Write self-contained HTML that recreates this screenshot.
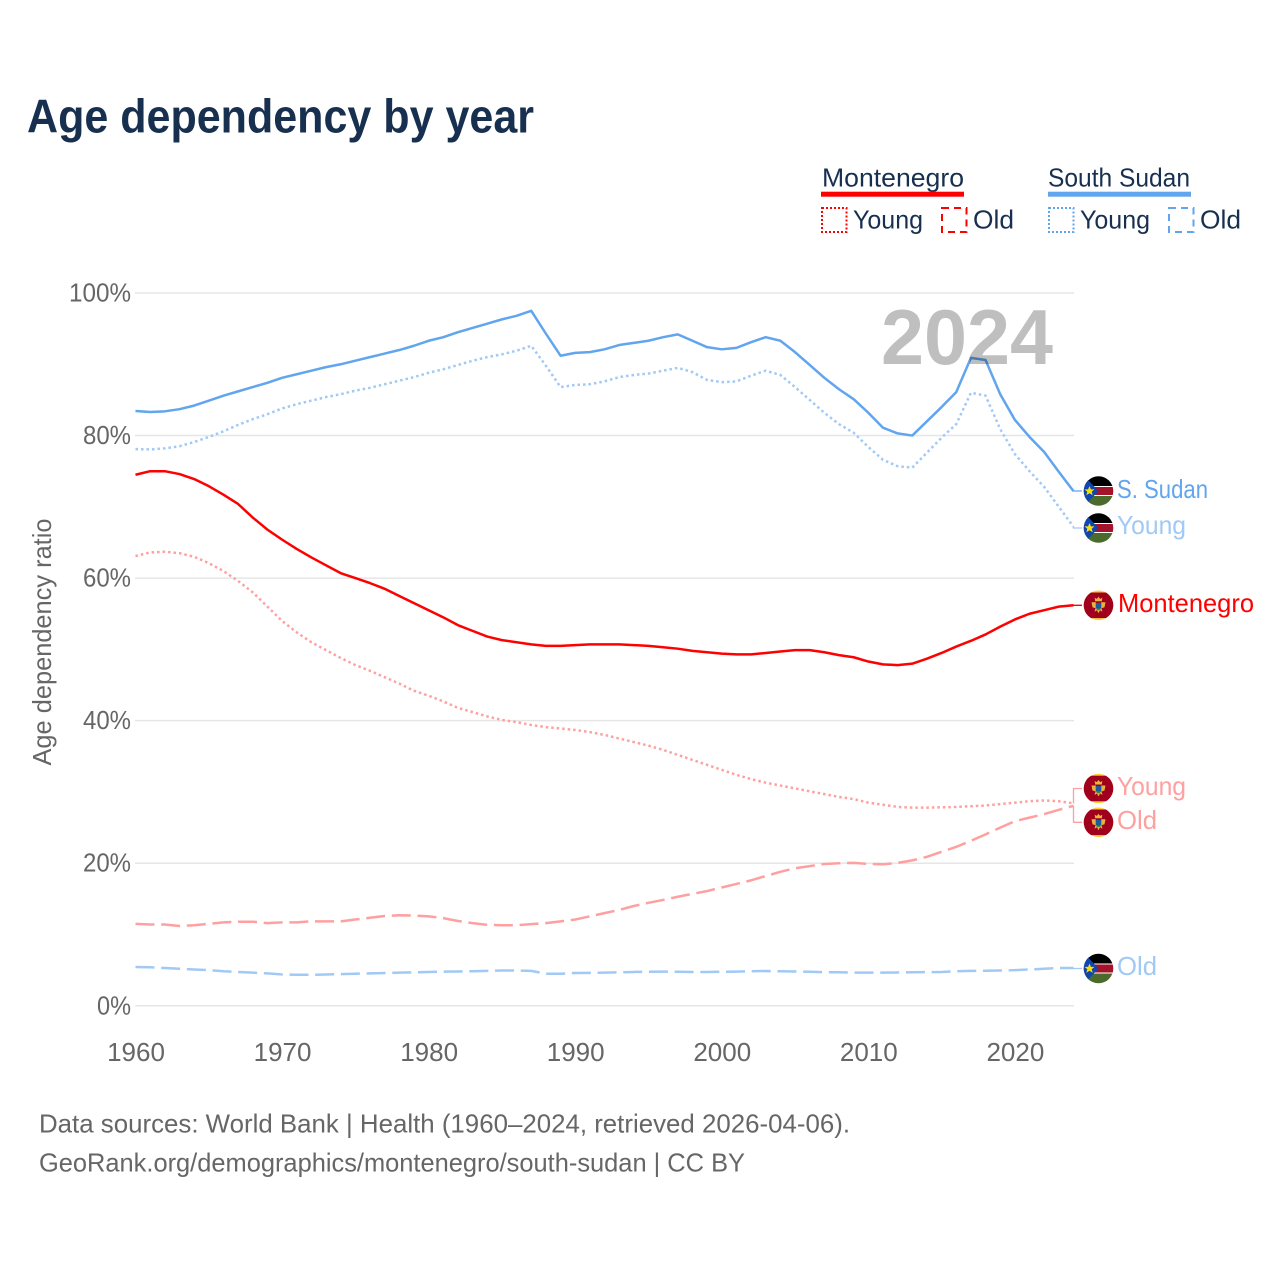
<!DOCTYPE html>
<html lang="en">
<head>
<meta charset="utf-8">
<title>Age dependency by year</title>
<style>
html,body{margin:0;padding:0;background:#fff;width:1280px;height:1280px;overflow:hidden}
svg{display:block}
text{font-family:"Liberation Sans",sans-serif}
.tick{font-size:26px;fill:#666}
.legend-text{font-size:26px;fill:#18304f}
.end-label{font-size:26px}
.foot{font-size:26px;fill:#666}
</style>
</head>
<body>
<svg id="chart" xmlns="http://www.w3.org/2000/svg" width="1280" height="1280" viewBox="0 0 1280 1280">
  <defs>
    <clipPath id="flag-clip"><circle cx="0" cy="0" r="14.8"/></clipPath>
    <g id="flag-ss" clip-path="url(#flag-clip)">
      <rect x="-16" y="-16" width="32" height="11" fill="#000"/>
      <rect x="-16" y="-5" width="32" height="10" fill="#fff"/>
      <rect x="-16" y="-4" width="32" height="8" fill="#a5132a"/>
      <rect x="-16" y="5" width="32" height="11" fill="#4b6b2c"/>
      <polygon points="-16,-17 0,0 -16,17" fill="#0f47af"/>
      <polygon points="-9,-5 -7.6,-1.6 -4,-1.6 -6.8,0.7 -5.8,4.2 -9,2.2 -12.2,4.2 -11.2,0.7 -14,-1.6 -10.4,-1.6" fill="#fcdd09"/>
    </g>
    <g id="flag-me" clip-path="url(#flag-clip)">
      <rect x="-16" y="-16" width="32" height="32" fill="#fcd03c"/>
      <rect x="-16" y="-12.8" width="32" height="25.6" fill="#a0001e"/>
      <polygon points="-3.4,-4 -3.8,-7.5 -1.6,-6.4 0,-8.6 1.6,-6.4 3.8,-7.5 3.4,-4" fill="#e8b53a"/>
      <polygon points="-7,-3 -2.6,-3 -2.6,-1 2.6,-1 2.6,-3 7,-3 6,2 3,3 4,6.5 1.5,5 0,8 -1.5,5 -4,6.5 -3,3 -6,2" fill="#e8b53a"/>
      <rect x="-2.8" y="-2.4" width="5.6" height="5.6" fill="#1d5a9e"/>
      <rect x="-1.8" y="3.2" width="3.6" height="1.6" fill="#3f8a4a"/>
    </g>
  </defs>

  <text x="27" y="132.5" font-size="47" font-weight="700" fill="#18304f" textLength="507" lengthAdjust="spacingAndGlyphs">Age dependency by year</text>

  <g>
    <g>
      <text class="legend-text" x="822" y="186.5" textLength="142" lengthAdjust="spacingAndGlyphs">Montenegro</text>
      <rect x="821" y="191.7" width="143" height="5" fill="#ff0000"/>
      <rect x="822" y="208" width="24.5" height="24" fill="none" stroke="#ff0000" stroke-width="2" stroke-dasharray="2 2"/>
      <text class="legend-text" x="853" y="228.5" textLength="70" lengthAdjust="spacingAndGlyphs">Young</text>
      <rect x="942" y="208" width="24.5" height="24" fill="none" stroke="#ff0000" stroke-width="2" stroke-dasharray="7 5"/>
      <text class="legend-text" x="973" y="228.5" textLength="41" lengthAdjust="spacingAndGlyphs">Old</text>
    </g>
    <g>
      <text class="legend-text" x="1048" y="186.5" textLength="142" lengthAdjust="spacingAndGlyphs">South Sudan</text>
      <rect x="1048" y="191.7" width="143" height="5" fill="#60a5ee"/>
      <rect x="1049" y="208" width="24.5" height="24" fill="none" stroke="#60a5ee" stroke-width="2" stroke-dasharray="2 2"/>
      <text class="legend-text" x="1080" y="228.5" textLength="70" lengthAdjust="spacingAndGlyphs">Young</text>
      <rect x="1169" y="208" width="24.5" height="24" fill="none" stroke="#60a5ee" stroke-width="2" stroke-dasharray="7 5"/>
      <text class="legend-text" x="1200" y="228.5" textLength="41" lengthAdjust="spacingAndGlyphs">Old</text>
    </g>
  </g>

  <g id="grid"></g>
  <g id="ylabels"></g>
  <g id="xlabels"></g>
  <text class="tick" transform="translate(51,642) rotate(-90)" text-anchor="middle" textLength="247" lengthAdjust="spacingAndGlyphs">Age dependency ratio</text>

  <g id="series"></g>
  <g id="leaders"></g>

  <text x="881" y="364" font-size="78" font-weight="700" fill="#000" fill-opacity="0.25" textLength="172" lengthAdjust="spacingAndGlyphs">2024</text>

  <g>
    <use href="#flag-ss" x="1098.5" y="491"/>
    <text class="end-label" x="1117" y="498" fill="#60a5ee" textLength="91" lengthAdjust="spacingAndGlyphs">S. Sudan</text>
    <use href="#flag-ss" x="1098.5" y="528"/>
    <text class="end-label" x="1117" y="534" fill="#a0c9f5" textLength="69" lengthAdjust="spacingAndGlyphs">Young</text>
    <use href="#flag-me" x="1098.5" y="605.3"/>
    <text class="end-label" x="1118" y="612" fill="#ff0000" textLength="136" lengthAdjust="spacingAndGlyphs">Montenegro</text>
    <use href="#flag-me" x="1098.5" y="788.5"/>
    <text class="end-label" x="1117" y="795" fill="#ffa0a0" textLength="69" lengthAdjust="spacingAndGlyphs">Young</text>
    <use href="#flag-me" x="1098.5" y="822.3"/>
    <text class="end-label" x="1117" y="829" fill="#ffa0a0" textLength="40" lengthAdjust="spacingAndGlyphs">Old</text>
    <use href="#flag-ss" x="1098.5" y="968.5"/>
    <text class="end-label" x="1117" y="975" fill="#a0c9f5" textLength="40" lengthAdjust="spacingAndGlyphs">Old</text>
  </g>

  <text class="foot" x="39" y="1132.5" textLength="811" lengthAdjust="spacingAndGlyphs">Data sources: World Bank | Health (1960–2024, retrieved 2026-04-06).</text>
  <text class="foot" x="39" y="1171.5" textLength="706" lengthAdjust="spacingAndGlyphs">GeoRank.org/demographics/montenegro/south-sudan | CC BY</text>
</svg>
<script>
const startYear = 1960;
const endYear = 2024;
const xTickYears = [1960, 1970, 1980, 1990, 2000, 2010, 2020];
const yTickValues = [0, 20, 40, 60, 80, 100];

const southSudanTotal = [83.45,83.3,83.4,83.7,84.2,84.9,85.6,86.2,86.8,87.4,88.1,88.6,89.1,89.6,90.0,90.5,91.0,91.5,92.0,92.6,93.3,93.8,94.5,95.1,95.7,96.3,96.8,97.5,94.3,91.2,91.6,91.7,92.1,92.7,93.0,93.3,93.8,94.2,93.3,92.4,92.1,92.3,93.1,93.8,93.3,91.7,89.9,88.1,86.5,85.1,83.2,81.1,80.3,80.0,82.0,84.0,86.1,90.9,90.6,85.8,82.2,79.8,77.7,74.9,72.2];
const southSudanYoung = [78.1,78.05,78.2,78.5,79.1,79.8,80.6,81.5,82.3,83.0,83.8,84.4,84.9,85.4,85.8,86.3,86.7,87.2,87.7,88.2,88.8,89.3,89.9,90.5,91.0,91.4,91.9,92.6,89.8,86.8,87.1,87.2,87.6,88.2,88.5,88.7,89.1,89.5,88.9,87.8,87.5,87.6,88.4,89.1,88.5,86.8,85.0,83.2,81.6,80.4,78.4,76.6,75.7,75.5,77.6,79.7,81.6,86.0,85.6,80.9,77.4,75.0,72.8,70.0,67.2];
const southSudanOld = [5.45,5.4,5.3,5.2,5.1,5.0,4.85,4.75,4.65,4.55,4.4,4.35,4.35,4.4,4.45,4.5,4.55,4.6,4.65,4.7,4.75,4.8,4.82,4.85,4.9,4.95,4.95,4.9,4.5,4.5,4.6,4.62,4.65,4.7,4.75,4.78,4.8,4.78,4.75,4.75,4.78,4.8,4.85,4.88,4.85,4.82,4.78,4.72,4.7,4.65,4.65,4.65,4.68,4.7,4.72,4.75,4.85,4.9,4.92,4.95,5.0,5.1,5.2,5.3,5.3];
const montenegroTotal = [74.5,75.0,75.0,74.6,73.9,72.9,71.7,70.4,68.5,66.8,65.4,64.1,62.9,61.8,60.7,60.0,59.3,58.5,57.5,56.5,55.5,54.5,53.4,52.6,51.8,51.3,51.0,50.7,50.5,50.5,50.6,50.7,50.7,50.7,50.6,50.5,50.3,50.1,49.8,49.6,49.4,49.3,49.3,49.5,49.7,49.9,49.9,49.6,49.2,48.9,48.3,47.9,47.8,48.0,48.7,49.5,50.4,51.2,52.1,53.2,54.2,55.0,55.5,56.0,56.2];
const montenegroYoung = [63.1,63.6,63.7,63.5,63.0,62.1,61.0,59.6,58.0,56.0,54.0,52.4,51.0,49.9,48.8,47.8,47.0,46.1,45.2,44.2,43.5,42.7,41.8,41.2,40.6,40.1,39.8,39.4,39.1,38.9,38.7,38.4,38.0,37.5,37.0,36.5,35.9,35.2,34.5,33.8,33.1,32.4,31.8,31.3,30.9,30.5,30.1,29.7,29.3,29.0,28.5,28.2,27.9,27.8,27.8,27.85,27.9,28.0,28.1,28.3,28.5,28.7,28.8,28.7,28.4];
const montenegroOld = [11.5,11.4,11.4,11.2,11.3,11.5,11.7,11.8,11.8,11.6,11.7,11.7,11.85,11.85,11.85,12.1,12.35,12.6,12.7,12.65,12.55,12.3,11.9,11.6,11.35,11.3,11.3,11.45,11.6,11.85,12.1,12.55,13.0,13.45,14.0,14.45,14.85,15.3,15.7,16.1,16.6,17.1,17.6,18.2,18.8,19.3,19.6,19.9,20.0,20.05,19.9,19.85,20.05,20.4,20.9,21.6,22.3,23.15,24.05,25.0,25.9,26.4,26.9,27.5,28.05];

const NS = 'http://www.w3.org/2000/svg';
function xScale(year) { return 135.5 + (year - startYear) * (1073.5 - 135.5) / (endYear - startYear); }
function yScale(v) { return 1005.8 - v * (1005.8 - 293) / 100; }

const grid = document.getElementById('grid');
const ylabels = document.getElementById('ylabels');
yTickValues.forEach(function (v) {
  const line = document.createElementNS(NS, 'line');
  
  
  line.setAttribute('x1', 135);
  line.setAttribute('x2', 1074);
  line.setAttribute('y1', yScale(v));
  line.setAttribute('y2', yScale(v));
  line.setAttribute('stroke', '#e6e6e6');
  line.setAttribute('stroke-width', '1.5');
  grid.appendChild(line);

  const t = document.createElementNS(NS, 'text');
  
  
  t.setAttribute('class', 'tick');
  const str = v + '%';
  const w = (str.length - 1) * 14 + 20;
  t.setAttribute('x', 131 - w);
  t.setAttribute('y', yScale(v) + 8.5);
  t.setAttribute('textLength', w);
  t.setAttribute('lengthAdjust', 'spacingAndGlyphs');
  t.textContent = str;
  ylabels.appendChild(t);
});

const xlabels = document.getElementById('xlabels');
xTickYears.forEach(function (yr) {
  const t = document.createElementNS(NS, 'text');
  
  
  t.setAttribute('class', 'tick');
  t.setAttribute('x', xScale(yr) + 0.5);
  t.setAttribute('y', 1061);
  t.setAttribute('text-anchor', 'middle');
  t.textContent = yr;
  xlabels.appendChild(t);
});

const seriesGroup = document.getElementById('series');
function drawSeries(name, values, color, dash) {
  const p = document.createElementNS(NS, 'polyline');
  
  
  const pts = values.map(function (v, i) {
    return xScale(startYear + i).toFixed(2) + ',' + yScale(v).toFixed(2);
  }).join(' ');
  p.setAttribute('points', pts);
  p.setAttribute('fill', 'none');
  p.setAttribute('stroke', color);
  p.setAttribute('stroke-width', '2.5');
  p.setAttribute('stroke-linejoin', 'round');
  if (dash) p.setAttribute('stroke-dasharray', dash);
  seriesGroup.appendChild(p);
}
drawSeries('series-south-sudan-old', southSudanOld, '#a0c9f5', '19 6.7');
drawSeries('series-south-sudan-young', southSudanYoung, '#a0c9f5', '2.5 3');
drawSeries('series-south-sudan-total', southSudanTotal, '#60a5ee', null);
drawSeries('series-montenegro-old', montenegroOld, '#ffa0a0', '19 6.7');
drawSeries('series-montenegro-young', montenegroYoung, '#ffa0a0', '2.5 3');
drawSeries('series-montenegro-total', montenegroTotal, '#ff0000', null);

const leaders = document.getElementById('leaders');
function drawLeader(name, values, color, labelY) {
  const p = document.createElementNS(NS, 'path');
  
  
  const x0 = xScale(endYear);
  const y0 = yScale(values[values.length - 1]);
  p.setAttribute('d', 'M' + x0 + ' ' + y0 + 'V' + labelY + 'H1082');
  p.setAttribute('fill', 'none');
  p.setAttribute('stroke', color);
  p.setAttribute('stroke-width', '1.3');
  leaders.appendChild(p);
}
drawLeader('leader-south-sudan-total', southSudanTotal, '#60a5ee', 491);
drawLeader('leader-south-sudan-young', southSudanYoung, '#a0c9f5', 528);
drawLeader('leader-montenegro-total', montenegroTotal, '#ff0000', 605.3);
drawLeader('leader-montenegro-young', montenegroYoung, '#ffa0a0', 788.5);
drawLeader('leader-montenegro-old', montenegroOld, '#ffa0a0', 822.3);
drawLeader('leader-south-sudan-old', southSudanOld, '#a0c9f5', 968.5);
</script>
</body>
</html>
